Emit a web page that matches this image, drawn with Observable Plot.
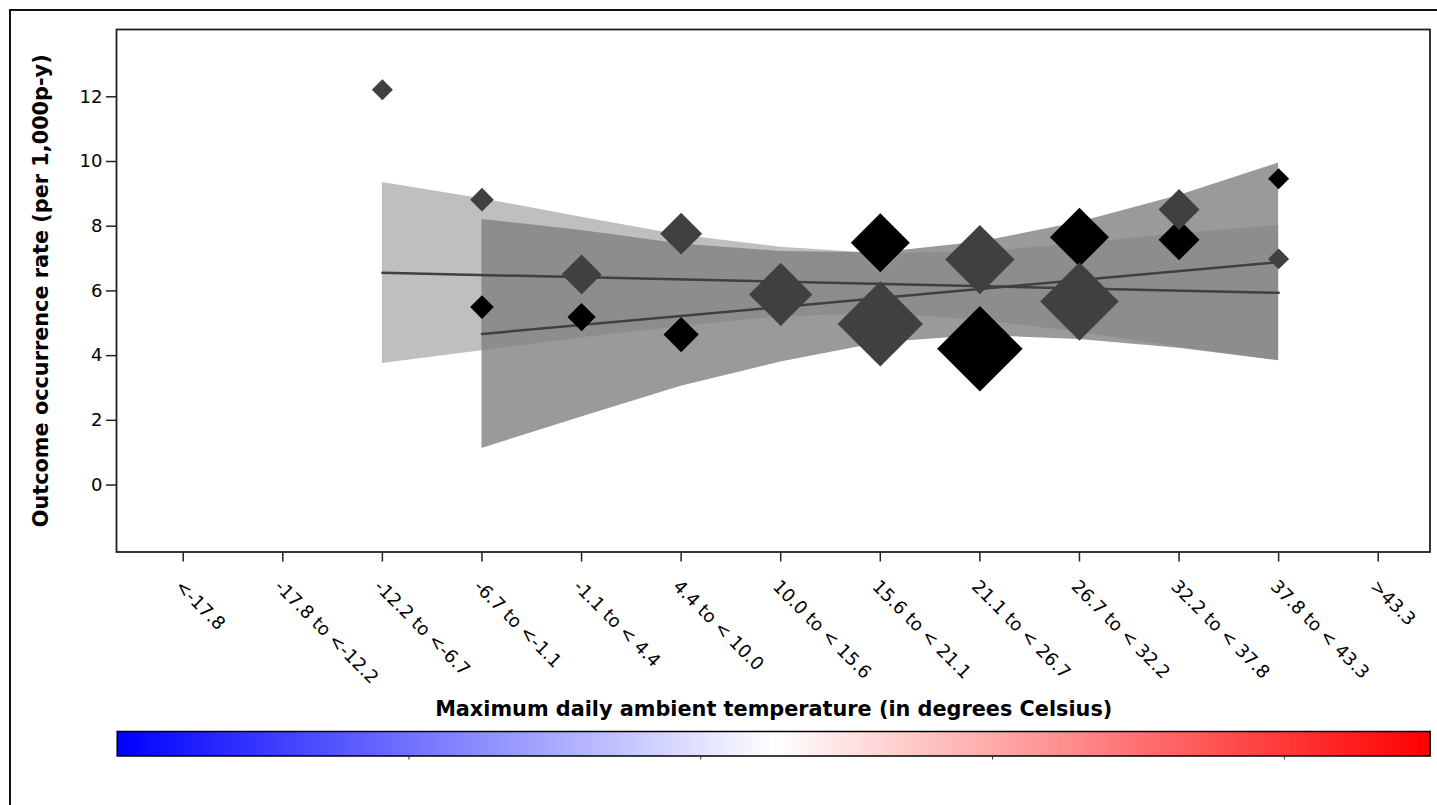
<!DOCTYPE html>
<html><head><meta charset="utf-8">
<script src="https://cdn.jsdelivr.net/npm/d3@7"></script>
<script src="https://cdn.jsdelivr.net/npm/@observablehq/plot@0.6"></script>
<style>
html,body{margin:0;padding:0;background:#fff;overflow:hidden;width:1437px;height:805px;}
#wrap{position:relative;width:1437px;height:805px;overflow:hidden;}
#border{position:absolute;left:9px;top:9px;width:2000px;height:2000px;border:2px solid #111;}
#main{position:absolute;left:0;top:0;}
#cbar{position:absolute;left:0;top:670.5px;}
</style></head><body><div id="wrap"><div id="border"></div><div id="main"></div><div id="cbar"></div></div>
<script>
// ---- data ----
const categories = ["<-17.8", "-17.8 to <-12.2", "-12.2 to <-6.7", "-6.7 to <-1.1", "-1.1 to < 4.4",
  "4.4 to < 10.0", "10.0 to < 15.6", "15.6 to < 21.1", "21.1 to < 26.7", "26.7 to < 32.2",
  "32.2 to < 37.8", "37.8 to < 43.3", ">43.3"];
const catIndex = categories.map((_, i) => i);
const yTicks = [0, 2, 4, 6, 8, 10, 12];

// dark grey series
const grayIdx = [2, 3, 4, 5, 6, 7, 8, 9, 10, 11];
const grayRate = [12.22, 8.82, 6.51, 7.77, 5.89, 4.98, 6.97, 5.67, 8.52, 6.99];
const grayWeight = [1.1, 1.4, 4.0, 4.4, 10.0, 18.2, 12.0, 15.4, 4.2, 1.1];
const grayFitIdx = [2, 11];
const grayFitRate = [6.56, 5.94];
const grayBandLo = [3.76, 4.15, 4.55, 4.9, 5.2, 5.3, 5.1, 4.72, 4.27, 3.85];
const grayBandHi = [9.35, 8.85, 8.28, 7.72, 7.35, 7.15, 7.2, 7.46, 7.77, 8.02];

// black series
const blackIdx = [3, 4, 5, 7, 8, 9, 10, 11];
const blackRate = [5.50, 5.19, 4.65, 7.49, 4.21, 7.66, 7.58, 9.47];
const blackWeight = [1.4, 2.0, 3.1, 8.7, 18.3, 8.7, 4.2, 1.1];
const blackFitIdx = [3, 11];
const blackFitRate = [4.67, 6.89];
const blackBandIdx = [3, 4, 5, 6, 7, 8, 9, 10, 11];
const blackBandLo = [1.13, 2.1, 3.05, 3.8, 4.4, 4.62, 4.5, 4.23, 3.84];
const blackBandHi = [8.21, 7.87, 7.45, 7.22, 7.18, 7.51, 8.12, 8.95, 9.95];

const yLabel = "Outcome occurrence rate (per 1,000p-y)";
const cbTitle = "Maximum daily ambient temperature (in degrees Celsius)";
const cbDomain = [-40, 50];
const cbTicks = [-20, 0, 20, 40];

// ---- tables ----
const pts = (idx, rate, w) => idx.map((x, k) => ({x, y: rate[k], w: w[k]}));
const band = (idx, lo, hi) => idx.map((x, k) => ({x, lo: lo[k], hi: hi[k]}));
const fit = (idx, rate) => idx.map((x, k) => ({x, y: rate[k]}));
const grayPts = pts(grayIdx, grayRate, grayWeight);
const blackPts = pts(blackIdx, blackRate, blackWeight);
const grayBand = band(grayIdx, grayBandLo, grayBandHi);
const blackBand = band(blackBandIdx, blackBandLo, blackBandHi);
const grayFit = fit(grayFitIdx, grayFitRate);
const blackFit = fit(blackFitIdx, blackFitRate);

const baseStyle = {fontFamily: "DejaVu Sans, sans-serif", fontSize: "18px", color: "black", background: "transparent", overflow: "visible"};

const main = Plot.plot({
  width: 1437, height: 700,
  marginLeft: 116, marginRight: 7.5, marginTop: 29, marginBottom: 148.5,
  style: baseStyle,
  x: {domain: [-0.67, 12.52]},
  y: {domain: [-2.07, 14.08]},
  r: {type: "sqrt", domain: [0, 20], range: [0, 40.29]},
  marks: [
    Plot.areaY(blackBand, {x: "x", y1: "lo", y2: "hi", fill: "#9a9a9a"}),
    Plot.areaY(grayBand, {x: "x", y1: "lo", y2: "hi", fill: "#7f7f7f", fillOpacity: 0.5}),
    Plot.line(grayFit, {x: "x", y: "y", stroke: "#404040", strokeWidth: 2.5}),
    Plot.line(blackFit, {x: "x", y: "y", stroke: "#404040", strokeWidth: 2.5}),
    Plot.dot(blackPts, {x: "x", y: "y", r: "w", symbol: "diamond2", fill: "black"}),
    Plot.dot(grayPts, {x: "x", y: "y", r: "w", symbol: "diamond2", fill: "#404040"}),
    Plot.frame({stroke: "#222", strokeWidth: 1.8}),
    Plot.axisY(yTicks, {tickSize: 10, tickPadding: 4, label: null, fontSize: 18, stroke: "#222", strokeWidth: 1.5, fill: "black"}),
    Plot.axisX(catIndex, {tickSize: 10, fill: "none", label: null, stroke: "#222", strokeWidth: 1.5}),
    Plot.text(catIndex, {x: d => d, text: d => categories[d], frameAnchor: "bottom", dy: 26.5, rotate: 45,
      textAnchor: "start", lineAnchor: "top", fontSize: 18, fill: "black"}),
    Plot.text([yLabel], {text: d => d, frameAnchor: "left", dx: -75, rotate: -90, textAnchor: "middle", lineAnchor: "middle",
      fontWeight: "bold", fontSize: 20.8, fill: "black"})
  ]
});
document.getElementById("main").appendChild(main);

const bwr = d3.piecewise(d3.interpolateRgb, ["#0000ff", "#ffffff", "#ff0000"]);
const cbar = Plot.plot({
  width: 1437, height: 104.5,
  marginLeft: 116.7, marginRight: 7.3, marginTop: 60, marginBottom: 20,
  style: baseStyle,
  x: {domain: cbDomain},
  y: {domain: [0, 1], axis: null},
  color: {type: "linear", domain: cbDomain, interpolate: bwr},
  marks: [
    Plot.raster({x1: cbDomain[0], x2: cbDomain[1], y1: 0, y2: 1, fill: (x, y) => x, width: 656, height: 1}),
    Plot.frame({stroke: "black", strokeWidth: 1.5}),
    Plot.axisX(cbTicks, {tickSize: 4, fill: "none", label: null, stroke: "#333"}),
    Plot.text([cbTitle], {text: d => d, frameAnchor: "top", dy: -22.5, lineAnchor: "middle", fontWeight: "bold", fontSize: 20.8, fill: "black"})
  ]
});
document.getElementById("cbar").appendChild(cbar);
</script></body></html>
